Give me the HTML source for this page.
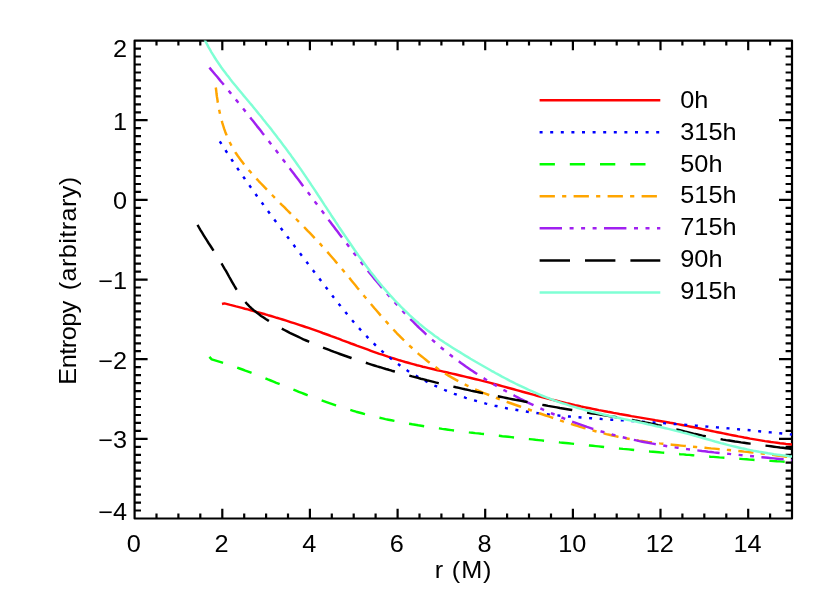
<!DOCTYPE html>
<html lang="en"><head><meta charset="utf-8"><title>Entropy vs r</title>
<style>html,body{margin:0;padding:0;background:#fff}svg{display:block;will-change:transform}text{font-family:"Liberation Sans",sans-serif;fill:#000}</style></head><body>
<svg width="830" height="604" viewBox="0 0 830 604">
<rect x="0" y="0" width="830" height="604" fill="#ffffff"/>
<defs><clipPath id="clip"><rect x="134.6" y="40.6" width="657.4" height="477.9"/></clipPath></defs>
<path d="M156.5 518.5 v-5.0 M156.5 40.6 v5.0 M178.4 518.5 v-5.0 M178.4 40.6 v5.0 M200.3 518.5 v-5.0 M200.3 40.6 v5.0 M222.3 518.5 v-9.7 M222.3 40.6 v9.7 M244.2 518.5 v-5.0 M244.2 40.6 v5.0 M266.1 518.5 v-5.0 M266.1 40.6 v5.0 M288.0 518.5 v-5.0 M288.0 40.6 v5.0 M309.9 518.5 v-9.7 M309.9 40.6 v9.7 M331.8 518.5 v-5.0 M331.8 40.6 v5.0 M353.7 518.5 v-5.0 M353.7 40.6 v5.0 M375.6 518.5 v-5.0 M375.6 40.6 v5.0 M397.6 518.5 v-9.7 M397.6 40.6 v9.7 M419.5 518.5 v-5.0 M419.5 40.6 v5.0 M441.4 518.5 v-5.0 M441.4 40.6 v5.0 M463.3 518.5 v-5.0 M463.3 40.6 v5.0 M485.2 518.5 v-9.7 M485.2 40.6 v9.7 M507.1 518.5 v-5.0 M507.1 40.6 v5.0 M529.0 518.5 v-5.0 M529.0 40.6 v5.0 M551.0 518.5 v-5.0 M551.0 40.6 v5.0 M572.9 518.5 v-9.7 M572.9 40.6 v9.7 M594.8 518.5 v-5.0 M594.8 40.6 v5.0 M616.7 518.5 v-5.0 M616.7 40.6 v5.0 M638.6 518.5 v-5.0 M638.6 40.6 v5.0 M660.5 518.5 v-9.7 M660.5 40.6 v9.7 M682.4 518.5 v-5.0 M682.4 40.6 v5.0 M704.3 518.5 v-5.0 M704.3 40.6 v5.0 M726.3 518.5 v-5.0 M726.3 40.6 v5.0 M748.2 518.5 v-9.7 M748.2 40.6 v9.7 M770.1 518.5 v-5.0 M770.1 40.6 v5.0 M134.6 510.5 h6.4 M792.0 510.5 h-6.4 M134.6 502.6 h6.4 M792.0 502.6 h-6.4 M134.6 494.6 h6.4 M792.0 494.6 h-6.4 M134.6 486.6 h6.4 M792.0 486.6 h-6.4 M134.6 478.7 h6.4 M792.0 478.7 h-6.4 M134.6 470.7 h6.4 M792.0 470.7 h-6.4 M134.6 462.7 h6.4 M792.0 462.7 h-6.4 M134.6 454.8 h6.4 M792.0 454.8 h-6.4 M134.6 446.8 h6.4 M792.0 446.8 h-6.4 M134.6 438.9 h13.0 M792.0 438.9 h-13.0 M134.6 430.9 h6.4 M792.0 430.9 h-6.4 M134.6 422.9 h6.4 M792.0 422.9 h-6.4 M134.6 415.0 h6.4 M792.0 415.0 h-6.4 M134.6 407.0 h6.4 M792.0 407.0 h-6.4 M134.6 399.0 h6.4 M792.0 399.0 h-6.4 M134.6 391.1 h6.4 M792.0 391.1 h-6.4 M134.6 383.1 h6.4 M792.0 383.1 h-6.4 M134.6 375.1 h6.4 M792.0 375.1 h-6.4 M134.6 367.2 h6.4 M792.0 367.2 h-6.4 M134.6 359.2 h13.0 M792.0 359.2 h-13.0 M134.6 351.2 h6.4 M792.0 351.2 h-6.4 M134.6 343.3 h6.4 M792.0 343.3 h-6.4 M134.6 335.3 h6.4 M792.0 335.3 h-6.4 M134.6 327.3 h6.4 M792.0 327.3 h-6.4 M134.6 319.4 h6.4 M792.0 319.4 h-6.4 M134.6 311.4 h6.4 M792.0 311.4 h-6.4 M134.6 303.4 h6.4 M792.0 303.4 h-6.4 M134.6 295.5 h6.4 M792.0 295.5 h-6.4 M134.6 287.5 h6.4 M792.0 287.5 h-6.4 M134.6 279.6 h13.0 M792.0 279.6 h-13.0 M134.6 271.6 h6.4 M792.0 271.6 h-6.4 M134.6 263.6 h6.4 M792.0 263.6 h-6.4 M134.6 255.7 h6.4 M792.0 255.7 h-6.4 M134.6 247.7 h6.4 M792.0 247.7 h-6.4 M134.6 239.7 h6.4 M792.0 239.7 h-6.4 M134.6 231.8 h6.4 M792.0 231.8 h-6.4 M134.6 223.8 h6.4 M792.0 223.8 h-6.4 M134.6 215.8 h6.4 M792.0 215.8 h-6.4 M134.6 207.9 h6.4 M792.0 207.9 h-6.4 M134.6 199.9 h13.0 M792.0 199.9 h-13.0 M134.6 191.9 h6.4 M792.0 191.9 h-6.4 M134.6 184.0 h6.4 M792.0 184.0 h-6.4 M134.6 176.0 h6.4 M792.0 176.0 h-6.4 M134.6 168.0 h6.4 M792.0 168.0 h-6.4 M134.6 160.1 h6.4 M792.0 160.1 h-6.4 M134.6 152.1 h6.4 M792.0 152.1 h-6.4 M134.6 144.1 h6.4 M792.0 144.1 h-6.4 M134.6 136.2 h6.4 M792.0 136.2 h-6.4 M134.6 128.2 h6.4 M792.0 128.2 h-6.4 M134.6 120.2 h13.0 M792.0 120.2 h-13.0 M134.6 112.3 h6.4 M792.0 112.3 h-6.4 M134.6 104.3 h6.4 M792.0 104.3 h-6.4 M134.6 96.4 h6.4 M792.0 96.4 h-6.4 M134.6 88.4 h6.4 M792.0 88.4 h-6.4 M134.6 80.4 h6.4 M792.0 80.4 h-6.4 M134.6 72.5 h6.4 M792.0 72.5 h-6.4 M134.6 64.5 h6.4 M792.0 64.5 h-6.4 M134.6 56.5 h6.4 M792.0 56.5 h-6.4 M134.6 48.6 h6.4 M792.0 48.6 h-6.4" stroke="#000" stroke-width="2.2" fill="none"/>
<rect x="134.6" y="40.6" width="657.4" height="477.9" fill="none" stroke="#000" stroke-width="2.2" stroke-linejoin="round"/>
<g fill="none" stroke-width="2.45" stroke-linejoin="round" clip-path="url(#clip)">
<path d="M222.0 304.0 L224.4 303.4 L227.3 304.1 L230.3 304.9 L233.2 305.6 L236.1 306.4 L239.0 307.1 L242.0 307.9 L244.9 308.7 L247.8 309.4 L250.7 310.2 L253.6 311.0 L256.5 311.9 L259.4 312.7 L262.3 313.5 L265.2 314.3 L268.1 315.2 L271.0 316.0 L273.9 316.9 L276.8 317.8 L279.7 318.6 L282.6 319.5 L285.5 320.4 L288.4 321.3 L291.3 322.3 L294.1 323.2 L297.0 324.1 L299.9 325.1 L302.7 326.0 L305.6 327.0 L308.5 327.9 L311.3 328.9 L314.2 329.9 L317.0 330.9 L319.9 331.9 L322.7 333.0 L325.5 334.0 L328.4 335.0 L331.2 336.1 L334.1 337.1 L336.9 338.2 L339.7 339.2 L342.5 340.3 L345.4 341.3 L348.2 342.4 L351.0 343.5 L353.9 344.5 L356.7 345.6 L359.5 346.6 L362.4 347.7 L365.2 348.7 L368.0 349.7 L370.9 350.8 L373.7 351.8 L376.6 352.8 L379.4 353.8 L382.3 354.7 L385.1 355.7 L388.0 356.7 L390.9 357.6 L393.8 358.5 L396.6 359.4 L399.5 360.3 L402.4 361.1 L405.3 362.0 L408.2 362.8 L411.2 363.6 L414.1 364.4 L417.0 365.2 L419.9 365.9 L422.8 366.7 L425.8 367.4 L428.7 368.1 L431.6 368.8 L434.6 369.5 L437.5 370.2 L440.5 370.9 L443.4 371.6 L446.3 372.3 L449.3 373.0 L452.2 373.6 L455.2 374.3 L458.1 375.0 L461.1 375.7 L464.0 376.4 L466.9 377.1 L469.9 377.8 L472.8 378.5 L475.8 379.2 L478.7 379.9 L481.6 380.6 L484.5 381.4 L487.5 382.1 L490.4 382.9 L493.3 383.7 L496.2 384.5 L499.1 385.3 L502.1 386.1 L505.0 386.9 L507.9 387.7 L510.8 388.5 L513.7 389.3 L516.6 390.1 L519.5 390.9 L522.4 391.7 L525.3 392.5 L528.2 393.3 L531.2 394.1 L534.1 394.9 L537.0 395.7 L539.9 396.5 L542.8 397.3 L545.7 398.1 L548.7 398.8 L551.6 399.6 L554.5 400.3 L557.4 401.0 L560.4 401.8 L563.3 402.5 L566.3 403.2 L569.2 403.8 L572.1 404.5 L575.1 405.2 L578.0 405.8 L581.0 406.5 L584.0 407.1 L586.9 407.7 L589.9 408.3 L592.8 408.9 L595.8 409.5 L598.8 410.1 L601.7 410.6 L604.7 411.2 L607.7 411.8 L610.6 412.3 L613.6 412.9 L616.6 413.4 L619.5 414.0 L622.5 414.5 L625.5 415.0 L628.5 415.5 L631.4 416.1 L634.4 416.6 L637.4 417.1 L640.4 417.6 L643.3 418.1 L646.3 418.6 L649.3 419.1 L652.3 419.6 L655.3 420.2 L658.2 420.7 L661.2 421.2 L664.2 421.7 L667.2 422.2 L670.1 422.8 L673.1 423.3 L676.1 423.9 L679.0 424.4 L682.0 425.0 L685.0 425.6 L687.9 426.1 L690.9 426.7 L693.9 427.3 L696.8 427.9 L699.8 428.5 L702.7 429.1 L705.7 429.8 L708.7 430.4 L711.6 431.0 L714.6 431.6 L717.5 432.2 L720.5 432.8 L723.4 433.4 L726.4 434.0 L729.4 434.6 L732.3 435.2 L735.3 435.8 L738.3 436.4 L741.2 436.9 L744.2 437.5 L747.2 438.0 L750.1 438.6 L753.1 439.1 L756.1 439.6 L759.1 440.1 L762.1 440.6 L765.0 441.1 L768.0 441.5 L771.0 442.0 L774.0 442.4 L777.0 442.8 L780.0 443.2 L783.0 443.5 L786.0 443.9 L789.0 444.2 L792.0 444.5" stroke="#ff0000"/>
<path d="M219.8 141.3 L221.4 143.9 L223.0 146.4 L224.7 148.9 L226.3 151.5 L228.0 154.0 L229.6 156.5 L231.3 159.0 L232.9 161.5 L234.6 164.1 L236.3 166.6 L238.0 169.1 L239.7 171.5 L241.4 174.0 L243.2 176.5 L244.9 179.0 L246.6 181.5 L248.3 183.9 L250.1 186.4 L251.8 188.8 L253.6 191.3 L255.4 193.8 L257.1 196.2 L258.9 198.6 L260.7 201.1 L262.5 203.5 L264.2 206.0 L266.0 208.4 L267.8 210.8 L269.6 213.2 L271.4 215.7 L273.2 218.1 L275.0 220.5 L276.9 222.9 L278.7 225.3 L280.5 227.7 L282.3 230.1 L284.1 232.5 L286.0 234.9 L287.8 237.3 L289.6 239.7 L291.5 242.1 L293.3 244.5 L295.1 246.9 L297.0 249.3 L298.8 251.7 L300.6 254.1 L302.5 256.5 L304.3 258.9 L306.1 261.3 L308.0 263.7 L309.8 266.1 L311.6 268.5 L313.5 270.9 L315.3 273.3 L317.1 275.7 L319.0 278.1 L320.8 280.5 L322.6 282.9 L324.5 285.3 L326.3 287.7 L328.1 290.1 L330.0 292.5 L331.8 294.9 L333.6 297.3 L335.5 299.6 L337.3 302.0 L339.2 304.4 L341.1 306.8 L343.0 309.1 L344.9 311.5 L346.8 313.8 L348.7 316.1 L350.6 318.5 L352.6 320.8 L354.5 323.0 L356.5 325.3 L358.5 327.6 L360.5 329.8 L362.6 332.1 L364.6 334.3 L366.7 336.4 L368.8 338.6 L371.0 340.8 L373.1 342.9 L375.3 345.0 L377.5 347.0 L379.7 349.1 L381.9 351.1 L384.2 353.1 L386.5 355.0 L388.8 357.0 L391.2 358.8 L393.6 360.7 L396.0 362.5 L398.4 364.3 L400.8 366.1 L403.3 367.8 L405.8 369.5 L408.3 371.2 L410.9 372.8 L413.5 374.4 L416.1 375.9 L418.7 377.4 L421.3 378.9 L424.0 380.3 L426.7 381.7 L429.3 383.1 L432.1 384.4 L434.8 385.7 L437.5 386.9 L440.3 388.2 L443.1 389.3 L445.8 390.5 L448.6 391.6 L451.5 392.7 L454.3 393.8 L457.1 394.8 L460.0 395.8 L462.8 396.8 L465.7 397.8 L468.6 398.7 L471.4 399.6 L474.3 400.4 L477.2 401.2 L480.2 402.1 L483.1 402.8 L486.0 403.6 L488.9 404.3 L491.9 405.0 L494.8 405.7 L497.7 406.3 L500.7 407.0 L503.7 407.6 L506.6 408.2 L509.6 408.7 L512.5 409.3 L515.5 409.8 L518.5 410.3 L521.5 410.8 L524.5 411.3 L527.4 411.7 L530.4 412.2 L533.4 412.6 L536.4 413.0 L539.4 413.4 L542.4 413.7 L545.4 414.1 L548.4 414.4 L551.4 414.8 L554.4 415.1 L557.4 415.4 L560.4 415.7 L563.4 416.0 L566.4 416.3 L569.4 416.5 L572.4 416.8 L575.4 417.1 L578.4 417.3 L581.4 417.5 L584.4 417.8 L587.5 418.0 L590.5 418.2 L593.5 418.4 L596.5 418.6 L599.5 418.8 L602.5 419.1 L605.5 419.3 L608.5 419.5 L611.5 419.7 L614.6 419.8 L617.6 420.0 L620.6 420.2 L623.6 420.4 L626.6 420.6 L629.6 420.8 L632.6 421.0 L635.6 421.2 L638.6 421.4 L641.7 421.7 L644.7 421.9 L647.7 422.1 L650.7 422.3 L653.7 422.5 L656.7 422.7 L659.7 422.9 L662.7 423.1 L665.7 423.4 L668.8 423.6 L671.8 423.8 L674.8 424.0 L677.8 424.2 L680.8 424.5 L683.8 424.7 L686.8 424.9 L689.8 425.2 L692.8 425.4 L695.8 425.6 L698.8 425.9 L701.9 426.1 L704.9 426.4 L707.9 426.6 L710.9 426.9 L713.9 427.1 L716.9 427.4 L719.9 427.6 L722.9 427.9 L725.9 428.1 L728.9 428.4 L731.9 428.7 L734.9 428.9 L737.9 429.2 L740.9 429.5 L744.0 429.8 L747.0 430.0 L750.0 430.3 L753.0 430.6 L756.0 430.9 L759.0 431.2 L762.0 431.5 L765.0 431.8 L768.0 432.1 L771.0 432.4 L774.0 432.7 L777.0 433.0 L780.0 433.3 L783.0 433.6 L786.0 434.0 L789.0 434.3 L792.0 434.6" stroke="#0000ff" stroke-dasharray="3 7.6" stroke-dashoffset="0"/>
<path d="M209.4 356.9 L211.7 359.4 L222.4 362.7 L225.3 363.6 L228.2 364.5 L231.0 365.5 L233.9 366.5 L236.8 367.5 L239.6 368.5 L242.5 369.5 L245.3 370.6 L248.2 371.6 L251.0 372.7 L253.8 373.8 L256.6 374.9 L259.5 376.0 L262.3 377.1 L265.1 378.2 L267.9 379.4 L270.7 380.5 L273.5 381.6 L276.3 382.8 L279.2 383.9 L282.0 385.0 L284.8 386.2 L287.6 387.3 L290.4 388.4 L293.2 389.6 L296.0 390.7 L298.8 391.8 L301.7 392.9 L304.5 394.0 L307.3 395.1 L310.1 396.1 L313.0 397.2 L315.8 398.3 L318.7 399.3 L321.5 400.4 L324.4 401.4 L327.2 402.4 L330.1 403.4 L333.0 404.4 L335.8 405.3 L338.7 406.3 L341.6 407.2 L344.5 408.1 L347.4 409.1 L350.3 409.9 L353.2 410.8 L356.1 411.7 L359.0 412.5 L361.9 413.3 L364.8 414.1 L367.8 414.9 L370.7 415.6 L373.6 416.3 L376.6 417.1 L379.5 417.7 L382.5 418.4 L385.4 419.1 L388.4 419.7 L391.4 420.3 L394.3 420.9 L397.3 421.5 L400.3 422.1 L403.3 422.7 L406.2 423.2 L409.2 423.7 L412.2 424.3 L415.2 424.8 L418.2 425.3 L421.2 425.7 L424.2 426.2 L427.2 426.7 L430.2 427.1 L433.2 427.6 L436.2 428.0 L439.2 428.4 L442.2 428.9 L445.2 429.3 L448.2 429.7 L451.2 430.1 L454.2 430.5 L457.2 430.9 L460.2 431.2 L463.2 431.6 L466.2 432.0 L469.2 432.4 L472.2 432.7 L475.2 433.1 L478.2 433.4 L481.2 433.8 L484.3 434.1 L487.3 434.5 L490.3 434.8 L493.3 435.2 L496.3 435.5 L499.3 435.8 L502.3 436.2 L505.3 436.5 L508.3 436.8 L511.4 437.1 L514.4 437.5 L517.4 437.8 L520.4 438.1 L523.4 438.5 L526.4 438.8 L529.4 439.1 L532.4 439.4 L535.5 439.8 L538.5 440.1 L541.5 440.4 L544.5 440.7 L547.5 441.1 L550.5 441.4 L553.5 441.7 L556.5 442.0 L559.6 442.4 L562.6 442.7 L565.6 443.0 L568.6 443.3 L571.6 443.6 L574.6 443.9 L577.6 444.3 L580.6 444.6 L583.7 444.9 L586.7 445.2 L589.7 445.5 L592.7 445.8 L595.7 446.1 L598.7 446.4 L601.7 446.7 L604.8 447.1 L607.8 447.4 L610.8 447.7 L613.8 448.0 L616.8 448.3 L619.8 448.6 L622.9 448.9 L625.9 449.1 L628.9 449.4 L631.9 449.7 L634.9 450.0 L637.9 450.3 L640.9 450.6 L644.0 450.9 L647.0 451.2 L650.0 451.5 L653.0 451.7 L656.0 452.0 L659.0 452.3 L662.1 452.6 L665.1 452.8 L668.1 453.1 L671.1 453.4 L674.1 453.6 L677.2 453.9 L680.2 454.2 L683.2 454.4 L686.2 454.7 L689.2 454.9 L692.3 455.2 L695.3 455.5 L698.3 455.7 L701.3 455.9 L704.3 456.2 L707.4 456.4 L710.4 456.7 L713.4 456.9 L716.4 457.1 L719.4 457.4 L722.5 457.6 L725.5 457.8 L728.5 458.1 L731.5 458.3 L734.5 458.5 L737.6 458.7 L740.6 458.9 L743.6 459.1 L746.6 459.3 L749.7 459.6 L752.7 459.8 L755.7 460.0 L758.7 460.1 L761.8 460.3 L764.8 460.5 L767.8 460.7 L770.8 460.9 L773.8 461.1 L776.9 461.3 L779.9 461.4 L782.9 461.6 L785.9 461.8 L789.0 461.9 L792.0 462.1" stroke="#00ff00" stroke-dasharray="15.3 14.9" stroke-dashoffset="0"/>
<path d="M215.8 87.5 L216.2 90.5 L216.5 93.5 L216.9 96.5 L217.4 99.5 L217.8 102.5 L218.4 105.4 L218.9 108.4 L219.5 111.4 L220.1 114.3 L220.8 117.3 L221.6 120.2 L222.4 123.1 L223.3 126.0 L224.2 128.9 L225.2 131.7 L226.3 134.5 L227.4 137.3 L228.7 140.1 L230.0 142.8 L231.4 145.5 L232.9 148.1 L234.4 150.7 L236.0 153.3 L237.7 155.8 L239.5 158.2 L241.3 160.7 L243.1 163.1 L245.0 165.4 L246.9 167.8 L248.8 170.1 L250.8 172.3 L252.8 174.6 L254.8 176.8 L256.9 179.1 L258.9 181.3 L261.0 183.5 L263.1 185.7 L265.2 187.9 L267.3 190.1 L269.4 192.2 L271.5 194.4 L273.6 196.5 L275.7 198.7 L277.9 200.8 L280.0 203.0 L282.1 205.1 L284.3 207.2 L286.4 209.4 L288.5 211.5 L290.7 213.6 L292.8 215.7 L295.0 217.9 L297.1 220.0 L299.2 222.2 L301.4 224.3 L303.5 226.4 L305.6 228.6 L307.7 230.8 L309.8 232.9 L311.9 235.1 L314.0 237.3 L316.1 239.5 L318.1 241.7 L320.2 243.9 L322.2 246.2 L324.2 248.4 L326.2 250.7 L328.2 252.9 L330.2 255.2 L332.2 257.5 L334.2 259.8 L336.1 262.1 L338.1 264.4 L340.0 266.7 L342.0 269.0 L343.9 271.3 L345.8 273.7 L347.7 276.0 L349.7 278.3 L351.6 280.7 L353.5 283.0 L355.4 285.3 L357.3 287.7 L359.3 290.0 L361.2 292.3 L363.1 294.7 L365.0 297.0 L367.0 299.3 L368.9 301.6 L370.8 303.9 L372.8 306.2 L374.7 308.5 L376.7 310.8 L378.7 313.1 L380.6 315.4 L382.6 317.7 L384.6 319.9 L386.7 322.2 L388.7 324.4 L390.7 326.7 L392.8 328.9 L394.9 331.1 L396.9 333.3 L399.0 335.4 L401.2 337.6 L403.3 339.7 L405.5 341.8 L407.6 343.9 L409.8 346.0 L412.1 348.0 L414.3 350.1 L416.6 352.1 L418.8 354.1 L421.1 356.0 L423.5 357.9 L425.8 359.8 L428.2 361.7 L430.6 363.5 L433.0 365.3 L435.5 367.1 L437.9 368.8 L440.5 370.5 L443.0 372.2 L445.5 373.8 L448.1 375.4 L450.7 376.9 L453.3 378.4 L456.0 379.9 L458.6 381.3 L461.3 382.7 L464.0 384.0 L466.7 385.4 L469.5 386.7 L472.2 387.9 L474.9 389.2 L477.7 390.4 L480.5 391.6 L483.3 392.8 L486.1 393.9 L488.9 395.0 L491.7 396.2 L494.5 397.2 L497.3 398.3 L500.1 399.4 L503.0 400.4 L505.8 401.5 L508.6 402.5 L511.5 403.5 L514.3 404.5 L517.2 405.5 L520.0 406.5 L522.9 407.5 L525.7 408.5 L528.6 409.5 L531.5 410.5 L534.3 411.5 L537.2 412.5 L540.0 413.5 L542.9 414.5 L545.7 415.5 L548.6 416.4 L551.4 417.4 L554.3 418.4 L557.2 419.4 L560.0 420.3 L562.9 421.3 L565.8 422.2 L568.6 423.2 L571.5 424.1 L574.4 425.0 L577.3 425.9 L580.1 426.8 L583.0 427.7 L585.9 428.5 L588.8 429.4 L591.7 430.2 L594.6 431.0 L597.6 431.8 L600.5 432.6 L603.4 433.3 L606.3 434.1 L609.3 434.8 L612.2 435.5 L615.2 436.1 L618.1 436.8 L621.1 437.4 L624.0 438.0 L627.0 438.5 L630.0 439.1 L633.0 439.6 L635.9 440.1 L638.9 440.6 L641.9 441.0 L644.9 441.4 L647.9 441.9 L650.9 442.3 L653.9 442.7 L656.9 443.0 L659.9 443.4 L662.9 443.7 L665.9 444.1 L668.9 444.4 L671.9 444.7 L674.9 445.0 L677.9 445.3 L680.9 445.6 L683.9 445.9 L686.9 446.2 L689.9 446.5 L692.9 446.7 L695.9 447.0 L698.9 447.3 L702.0 447.5 L705.0 447.8 L708.0 448.1 L711.0 448.4 L714.0 448.6 L717.0 448.9 L720.0 449.2 L723.0 449.5 L726.0 449.8 L729.0 450.0 L732.0 450.3 L735.0 450.6 L738.0 450.9 L741.0 451.2 L744.1 451.6 L747.1 451.9 L750.1 452.2 L753.1 452.5 L756.1 452.9 L759.1 453.2 L762.1 453.6 L765.1 453.9 L768.1 454.3 L771.1 454.7 L774.1 455.1 L777.0 455.5 L780.0 455.9 L783.0 456.3 L786.0 456.7 L789.0 457.2 L792.0 457.6" stroke="#ffa500" stroke-dasharray="15.3 7.2 4.2 7.3" stroke-dashoffset="0"/>
<path d="M209.4 67.6 L211.3 69.9 L213.3 72.2 L215.2 74.5 L217.2 76.8 L219.1 79.1 L221.0 81.5 L223.0 83.8 L224.9 86.1 L226.8 88.4 L228.7 90.8 L230.6 93.1 L232.5 95.4 L234.4 97.8 L236.3 100.1 L238.2 102.5 L240.1 104.8 L242.0 107.2 L243.9 109.5 L245.8 111.9 L247.7 114.2 L249.6 116.6 L251.4 119.0 L253.3 121.3 L255.2 123.7 L257.0 126.1 L258.9 128.4 L260.8 130.8 L262.6 133.2 L264.5 135.6 L266.3 137.9 L268.2 140.3 L270.0 142.7 L271.9 145.1 L273.7 147.5 L275.6 149.9 L277.4 152.3 L279.2 154.7 L281.1 157.1 L282.9 159.4 L284.7 161.8 L286.6 164.2 L288.4 166.6 L290.2 169.0 L292.1 171.4 L293.9 173.8 L295.7 176.2 L297.5 178.6 L299.4 181.0 L301.2 183.5 L303.0 185.9 L304.8 188.3 L306.6 190.7 L308.5 193.1 L310.3 195.5 L312.1 197.9 L313.9 200.3 L315.7 202.7 L317.5 205.1 L319.4 207.5 L321.2 209.9 L323.0 212.3 L324.8 214.8 L326.6 217.2 L328.4 219.6 L330.3 222.0 L332.1 224.4 L333.9 226.8 L335.7 229.2 L337.5 231.6 L339.3 234.0 L341.2 236.4 L343.0 238.8 L344.8 241.2 L346.7 243.6 L348.5 246.0 L350.3 248.4 L352.2 250.8 L354.0 253.2 L355.9 255.6 L357.7 257.9 L359.6 260.3 L361.5 262.7 L363.3 265.0 L365.2 267.4 L367.1 269.8 L369.0 272.1 L370.9 274.4 L372.8 276.8 L374.7 279.1 L376.7 281.4 L378.6 283.7 L380.5 286.1 L382.5 288.4 L384.4 290.6 L386.4 292.9 L388.4 295.2 L390.4 297.5 L392.4 299.7 L394.4 302.0 L396.4 304.2 L398.5 306.4 L400.5 308.7 L402.6 310.9 L404.6 313.1 L406.7 315.2 L408.8 317.4 L410.9 319.6 L413.1 321.7 L415.2 323.8 L417.3 326.0 L419.5 328.1 L421.7 330.1 L423.9 332.2 L426.1 334.3 L428.3 336.3 L430.5 338.3 L432.8 340.3 L435.1 342.3 L437.3 344.3 L439.6 346.3 L441.9 348.2 L444.3 350.1 L446.6 352.0 L449.0 353.9 L451.4 355.8 L453.7 357.6 L456.2 359.4 L458.6 361.2 L461.0 363.0 L463.5 364.7 L465.9 366.5 L468.4 368.2 L470.9 369.9 L473.4 371.6 L475.9 373.2 L478.5 374.9 L481.0 376.5 L483.5 378.1 L486.1 379.7 L488.7 381.3 L491.3 382.8 L493.9 384.4 L496.5 385.9 L499.1 387.4 L501.7 388.9 L504.4 390.3 L507.0 391.8 L509.7 393.2 L512.3 394.6 L515.0 396.0 L517.7 397.4 L520.4 398.8 L523.1 400.1 L525.8 401.5 L528.5 402.8 L531.2 404.1 L533.9 405.4 L536.7 406.7 L539.4 407.9 L542.1 409.2 L544.9 410.4 L547.7 411.6 L550.4 412.8 L553.2 414.0 L556.0 415.2 L558.8 416.3 L561.6 417.5 L564.4 418.6 L567.2 419.7 L570.0 420.8 L572.8 421.8 L575.7 422.9 L578.5 423.9 L581.3 424.9 L584.2 425.9 L587.0 426.9 L589.9 427.8 L592.8 428.8 L595.6 429.7 L598.5 430.6 L601.4 431.5 L604.3 432.3 L607.2 433.1 L610.1 434.0 L613.0 434.8 L615.9 435.5 L618.8 436.3 L621.8 437.0 L624.7 437.7 L627.6 438.4 L630.6 439.1 L633.5 439.8 L636.5 440.4 L639.4 441.1 L642.4 441.7 L645.3 442.3 L648.3 442.8 L651.3 443.4 L654.2 443.9 L657.2 444.5 L660.2 445.0 L663.1 445.5 L666.1 446.0 L669.1 446.5 L672.1 446.9 L675.1 447.4 L678.0 447.8 L681.0 448.2 L684.0 448.7 L687.0 449.1 L690.0 449.5 L693.0 449.9 L696.0 450.2 L699.0 450.6 L702.0 451.0 L705.0 451.3 L708.0 451.7 L711.0 452.0 L714.0 452.4 L717.0 452.7 L720.0 453.0 L723.0 453.3 L726.0 453.6 L729.0 453.9 L732.0 454.2 L735.0 454.5 L738.0 454.8 L741.0 455.1 L744.0 455.4 L747.0 455.7 L750.0 456.0 L753.0 456.3 L756.0 456.6 L759.0 456.9 L762.0 457.2 L765.0 457.5 L768.0 457.8 L771.0 458.1 L774.0 458.4 L777.0 458.7 L780.0 459.0 L783.0 459.3 L786.0 459.6 L789.0 459.9 L792.0 460.2" stroke="#a020f0" stroke-dasharray="22.4 7.6 4 7.5 4 7.5 4 7.4" stroke-dashoffset="0"/>
<path d="M197.5 224.9 L199.0 227.5 L200.5 230.1 L202.1 232.7 L203.7 235.3 L205.3 237.9 L206.9 240.4 L208.5 243.0 L210.2 245.5 L211.8 248.0 L213.5 250.6 L215.1 253.1 L216.7 255.7 L218.3 258.3 L219.9 260.8 L221.5 263.4 L223.0 266.0 L224.5 268.6 L226.1 271.2 L227.6 273.9 L229.0 276.5 L230.5 279.1 L232.0 281.8 L233.5 284.4 L235.0 287.0 L236.6 289.6 L238.2 292.2 L239.8 294.7 L241.6 297.2 L243.4 299.6 L245.3 301.9 L247.3 304.2 L249.4 306.3 L251.6 308.4 L253.9 310.4 L256.3 312.3 L258.7 314.1 L261.1 315.9 L263.6 317.6 L266.1 319.3 L268.7 320.9 L271.2 322.5 L273.8 324.1 L276.4 325.6 L279.1 327.1 L281.7 328.6 L284.4 330.0 L287.1 331.4 L289.8 332.8 L292.5 334.1 L295.2 335.4 L297.9 336.7 L300.7 338.0 L303.4 339.3 L306.2 340.5 L308.9 341.7 L311.7 342.9 L314.5 344.1 L317.3 345.3 L320.1 346.4 L322.9 347.5 L325.7 348.6 L328.5 349.7 L331.4 350.8 L334.2 351.9 L337.0 352.9 L339.9 354.0 L342.7 355.0 L345.6 356.0 L348.4 357.0 L351.3 358.0 L354.1 359.0 L357.0 359.9 L359.9 360.9 L362.7 361.8 L365.6 362.7 L368.5 363.7 L371.4 364.6 L374.3 365.5 L377.2 366.4 L380.1 367.2 L383.0 368.1 L385.9 369.0 L388.8 369.8 L391.7 370.7 L394.6 371.5 L397.5 372.3 L400.4 373.2 L403.3 374.0 L406.2 374.8 L409.1 375.6 L412.1 376.4 L415.0 377.1 L417.9 377.9 L420.8 378.7 L423.8 379.4 L426.7 380.2 L429.6 380.9 L432.5 381.6 L435.5 382.4 L438.4 383.1 L441.4 383.8 L444.3 384.5 L447.2 385.2 L450.2 385.9 L453.1 386.6 L456.1 387.3 L459.0 387.9 L462.0 388.6 L464.9 389.3 L467.9 389.9 L470.8 390.6 L473.8 391.2 L476.7 391.9 L479.7 392.5 L482.7 393.1 L485.6 393.8 L488.6 394.4 L491.5 395.0 L494.5 395.6 L497.5 396.2 L500.4 396.8 L503.4 397.4 L506.3 398.0 L509.3 398.6 L512.3 399.2 L515.3 399.8 L518.2 400.3 L521.2 400.9 L524.2 401.5 L527.1 402.0 L530.1 402.6 L533.1 403.2 L536.0 403.7 L539.0 404.3 L542.0 404.8 L545.0 405.3 L548.0 405.9 L550.9 406.4 L553.9 406.9 L556.9 407.4 L559.9 408.0 L562.8 408.5 L565.8 409.0 L568.8 409.5 L571.8 410.0 L574.8 410.5 L577.8 411.0 L580.7 411.5 L583.7 412.0 L586.7 412.5 L589.7 413.0 L592.7 413.5 L595.7 413.9 L598.6 414.4 L601.6 414.9 L604.6 415.4 L607.6 415.9 L610.6 416.4 L613.6 416.8 L616.6 417.3 L619.5 417.8 L622.5 418.3 L625.5 418.9 L628.5 419.4 L631.5 419.9 L634.4 420.5 L637.4 421.0 L640.4 421.6 L643.3 422.1 L646.3 422.7 L649.3 423.3 L652.2 423.9 L655.2 424.5 L658.2 425.2 L661.1 425.8 L664.1 426.5 L667.0 427.2 L669.9 427.9 L672.9 428.6 L675.8 429.3 L678.8 430.0 L681.7 430.7 L684.6 431.5 L687.6 432.2 L690.5 432.9 L693.5 433.6 L696.4 434.2 L699.4 434.9 L702.3 435.6 L705.3 436.2 L708.2 436.8 L711.2 437.4 L714.2 438.0 L717.1 438.5 L720.1 439.0 L723.1 439.6 L726.1 440.1 L729.1 440.5 L732.0 441.0 L735.0 441.5 L738.0 441.9 L741.0 442.4 L744.0 442.8 L747.0 443.2 L750.0 443.6 L753.0 444.0 L756.0 444.4 L759.0 444.8 L762.0 445.2 L765.0 445.6 L768.0 445.9 L771.0 446.3 L774.0 446.7 L777.0 447.1 L780.0 447.5 L783.0 447.8 L786.0 448.2 L789.0 448.6 L792.0 449.0" stroke="#000000" stroke-dasharray="30.4 15" stroke-dashoffset="0"/>
<path d="M204.4 39.0 L205.7 41.7 L207.1 44.4 L208.5 47.1 L210.0 49.7 L211.5 52.3 L213.1 54.9 L214.7 57.5 L216.3 60.0 L218.0 62.5 L219.7 65.0 L221.4 67.5 L223.2 69.9 L225.0 72.3 L226.8 74.7 L228.7 77.1 L230.5 79.5 L232.4 81.9 L234.3 84.2 L236.2 86.6 L238.1 88.9 L240.1 91.2 L242.0 93.6 L243.9 95.9 L245.9 98.2 L247.8 100.5 L249.7 102.8 L251.7 105.1 L253.6 107.5 L255.5 109.8 L257.4 112.1 L259.3 114.5 L261.3 116.8 L263.1 119.2 L265.0 121.5 L266.9 123.9 L268.8 126.3 L270.7 128.6 L272.5 131.0 L274.4 133.4 L276.2 135.8 L278.0 138.2 L279.9 140.6 L281.7 143.0 L283.5 145.4 L285.3 147.8 L287.1 150.3 L288.9 152.7 L290.7 155.1 L292.4 157.6 L294.2 160.0 L296.0 162.5 L297.7 165.0 L299.4 167.4 L301.2 169.9 L302.9 172.4 L304.6 174.9 L306.3 177.4 L308.0 179.9 L309.7 182.4 L311.3 184.9 L313.0 187.4 L314.7 189.9 L316.4 192.5 L318.0 195.0 L319.7 197.5 L321.3 200.0 L323.0 202.6 L324.6 205.1 L326.3 207.6 L327.9 210.1 L329.6 212.7 L331.2 215.2 L332.9 217.7 L334.6 220.2 L336.2 222.8 L337.9 225.3 L339.5 227.8 L341.2 230.3 L342.9 232.8 L344.6 235.3 L346.3 237.8 L348.0 240.3 L349.7 242.8 L351.4 245.3 L353.1 247.8 L354.8 250.3 L356.6 252.7 L358.3 255.2 L360.1 257.7 L361.9 260.1 L363.7 262.5 L365.5 265.0 L367.3 267.4 L369.1 269.8 L370.9 272.2 L372.8 274.6 L374.7 276.9 L376.5 279.3 L378.4 281.6 L380.4 284.0 L382.3 286.3 L384.3 288.6 L386.2 290.9 L388.2 293.1 L390.2 295.4 L392.3 297.6 L394.3 299.8 L396.4 302.0 L398.5 304.2 L400.6 306.4 L402.7 308.5 L404.9 310.6 L407.1 312.7 L409.3 314.8 L411.5 316.8 L413.7 318.9 L416.0 320.9 L418.3 322.8 L420.6 324.8 L422.9 326.7 L425.3 328.6 L427.7 330.5 L430.1 332.3 L432.5 334.1 L434.9 335.9 L437.4 337.6 L439.8 339.4 L442.3 341.1 L444.8 342.8 L447.4 344.4 L449.9 346.0 L452.5 347.7 L455.0 349.3 L457.6 350.9 L460.2 352.4 L462.7 354.0 L465.3 355.6 L467.9 357.1 L470.5 358.7 L473.1 360.2 L475.7 361.8 L478.3 363.3 L480.9 364.8 L483.5 366.3 L486.2 367.8 L488.8 369.3 L491.4 370.8 L494.1 372.2 L496.7 373.7 L499.4 375.1 L502.0 376.6 L504.7 378.0 L507.4 379.4 L510.0 380.8 L512.7 382.1 L515.4 383.5 L518.1 384.8 L520.9 386.1 L523.6 387.4 L526.3 388.7 L529.1 390.0 L531.8 391.2 L534.6 392.4 L537.4 393.6 L540.1 394.8 L542.9 396.0 L545.7 397.1 L548.5 398.2 L551.4 399.3 L554.2 400.3 L557.0 401.3 L559.9 402.3 L562.8 403.3 L565.6 404.2 L568.5 405.2 L571.4 406.1 L574.3 406.9 L577.2 407.8 L580.1 408.6 L583.0 409.4 L585.9 410.2 L588.8 410.9 L591.8 411.7 L594.7 412.4 L597.6 413.1 L600.6 413.8 L603.5 414.5 L606.5 415.2 L609.4 415.9 L612.3 416.5 L615.3 417.2 L618.2 417.8 L621.2 418.5 L624.1 419.1 L627.1 419.7 L630.1 420.4 L633.0 421.0 L636.0 421.6 L638.9 422.3 L641.9 422.9 L644.8 423.5 L647.8 424.2 L650.7 424.8 L653.7 425.5 L656.6 426.2 L659.6 426.8 L662.5 427.5 L665.4 428.2 L668.4 428.9 L671.3 429.6 L674.2 430.3 L677.2 431.1 L680.1 431.8 L683.0 432.6 L685.9 433.3 L688.9 434.1 L691.8 434.9 L694.7 435.7 L697.6 436.6 L700.5 437.4 L703.4 438.2 L706.3 439.0 L709.2 439.8 L712.1 440.6 L715.0 441.5 L717.9 442.3 L720.9 443.1 L723.8 443.8 L726.7 444.6 L729.6 445.4 L732.5 446.1 L735.5 446.8 L738.4 447.5 L741.4 448.2 L744.3 448.8 L747.3 449.5 L750.2 450.1 L753.2 450.7 L756.2 451.2 L759.1 451.8 L762.1 452.3 L765.1 452.8 L768.1 453.3 L771.0 453.7 L774.0 454.2 L777.0 454.6 L780.0 455.0 L783.0 455.4 L786.0 455.8 L789.0 456.2 L792.0 456.5" stroke="#7fffd4"/>
</g>
<g font-size="23">
<text transform="translate(133.9 552.0) scale(1.1 1)" text-anchor="middle">0</text>
<text transform="translate(221.6 552.0) scale(1.1 1)" text-anchor="middle">2</text>
<text transform="translate(309.2 552.0) scale(1.1 1)" text-anchor="middle">4</text>
<text transform="translate(396.9 552.0) scale(1.1 1)" text-anchor="middle">6</text>
<text transform="translate(484.5 552.0) scale(1.1 1)" text-anchor="middle">8</text>
<text transform="translate(572.2 552.0) scale(1.1 1)" text-anchor="middle">10</text>
<text transform="translate(659.8 552.0) scale(1.1 1)" text-anchor="middle">12</text>
<text transform="translate(747.5 552.0) scale(1.1 1)" text-anchor="middle">14</text>
<text transform="translate(127.1 520.0) scale(1.1 1)" text-anchor="end">−4</text>
<text transform="translate(127.1 448.2) scale(1.1 1)" text-anchor="end">−3</text>
<text transform="translate(127.1 368.6) scale(1.1 1)" text-anchor="end">−2</text>
<text transform="translate(127.1 289.0) scale(1.1 1)" text-anchor="end">−1</text>
<text transform="translate(127.1 209.3) scale(1.1 1)" text-anchor="end">0</text>
<text transform="translate(127.1 129.7) scale(1.1 1)" text-anchor="end">1</text>
<text transform="translate(127.1 56.9) scale(1.1 1)" text-anchor="end">2</text>
<text transform="translate(463.5 578.0) scale(1.1 1)" text-anchor="middle" letter-spacing="0.8">r (M)</text>
<text transform="translate(76.0 280.5) rotate(-90) scale(1.1 1)" text-anchor="middle" word-spacing="3.4"><tspan letter-spacing="-0.45">Entropy</tspan> <tspan letter-spacing="0.36">(arbitrary)</tspan></text>
<path d="M539.6 100.2 H660.3" stroke="#ff0000" stroke-width="2.45" fill="none"/>
<text transform="translate(680.3 107.7) scale(1.1 1)">0h</text>
<path d="M539.6 132.2 H660.3" stroke="#0000ff" stroke-width="2.45" fill="none" stroke-dasharray="3 7.6"/>
<text transform="translate(680.3 139.6) scale(1.1 1)">315h</text>
<path d="M539.6 164.3 H660.3" stroke="#00ff00" stroke-width="2.45" fill="none" stroke-dasharray="15.3 14.9"/>
<text transform="translate(680.3 171.5) scale(1.1 1)">50h</text>
<path d="M539.6 196.3 H660.3" stroke="#ffa500" stroke-width="2.45" fill="none" stroke-dasharray="15.3 7.2 4.2 7.3"/>
<text transform="translate(680.3 203.4) scale(1.1 1)">515h</text>
<path d="M539.6 228.3 H660.3" stroke="#a020f0" stroke-width="2.45" fill="none" stroke-dasharray="22.4 7.6 4 7.5 4 7.5 4 7.4"/>
<text transform="translate(680.3 235.3) scale(1.1 1)">715h</text>
<path d="M539.6 260.4 H660.3" stroke="#000000" stroke-width="2.45" fill="none" stroke-dasharray="30.4 15"/>
<text transform="translate(680.3 267.2) scale(1.1 1)">90h</text>
<path d="M539.6 292.4 H660.3" stroke="#7fffd4" stroke-width="2.45" fill="none"/>
<text transform="translate(680.3 299.1) scale(1.1 1)">915h</text>
</g>
</svg></body></html>
